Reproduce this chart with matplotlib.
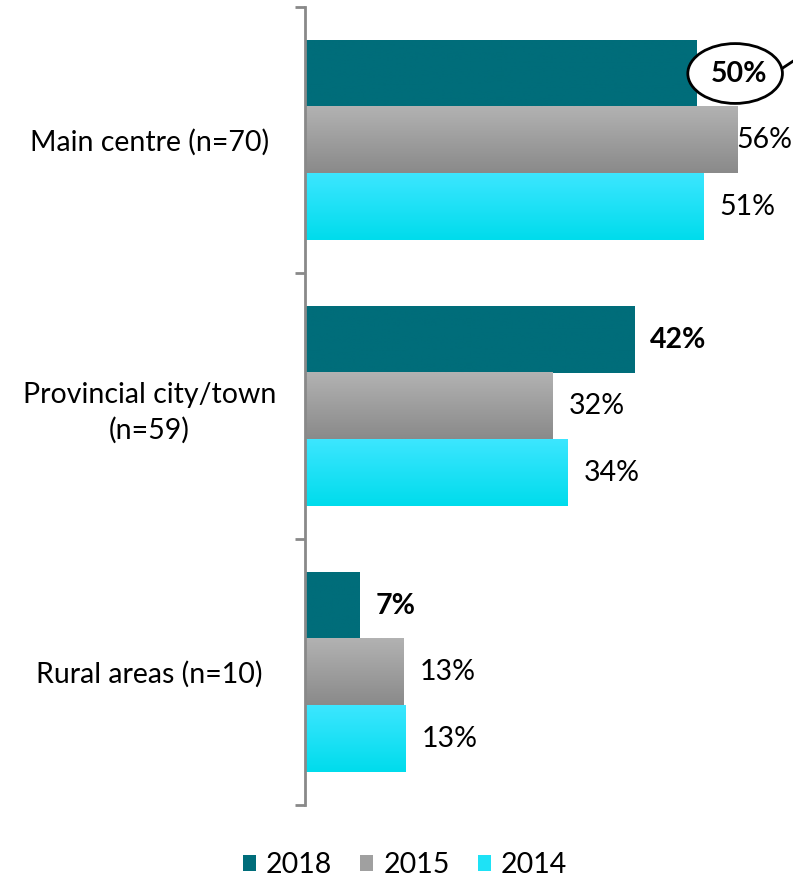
import matplotlib
matplotlib.use("Agg")
import matplotlib.pyplot as plt
import numpy as np
from matplotlib.colors import LinearSegmentedColormap
from matplotlib.patches import Ellipse, Patch
from matplotlib.lines import Line2D

plt.rcParams['font.family'] = ['Lato', 'DejaVu Sans']

categories = ['Main centre (n=70)', 'Provincial city/town\n(n=59)', 'Rural areas (n=10)']
years = ['2018', '2015', '2014']
vals_2018 = [50.0, 42.1, 7.0]
vals_2015 = [55.3, 31.7, 12.6]
vals_2014 = [51.0, 33.6, 12.9]
labels_2018 = ['50%', '42%', '7%']
labels_2015 = ['56%', '32%', '13%']
labels_2014 = ['51%', '34%', '13%']

# top colour, bottom colour for each series
grad = {
    '2018': ('#006d7a', '#006d7a'),
    '2015': ('#b2b2b2', '#8a8a8a'),
    '2014': ('#3ce6ff', '#00dcec'),
}
legend_col = {'2018': '#006d7a', '2015': '#a0a0a0', '2014': '#1ee2f6'}

fig = plt.figure(figsize=(7.93, 8.82), dpi=100)
ax = fig.add_axes([305/793, 77/882, 1 - 305/793, 798/882])

XMAX = 62.4
bh = 0.25
series = [(vals_2018, labels_2018, '2018', True),
          (vals_2015, labels_2015, '2015', False),
          (vals_2014, labels_2014, '2014', False)]

fs = 20.5
for k, (vals, labs, yr, bold) in enumerate(series):
    cmap = LinearSegmentedColormap.from_list(yr, list(grad[yr]))
    g = np.linspace(0, 1, 64).reshape(-1, 1)
    for i, v in enumerate(vals):
        yc = i - 0.25 + k * bh
        y0, y1 = yc - bh / 2, yc + bh / 2
        ax.imshow(g, extent=[0, v, y1, y0], origin='upper', aspect='auto',
                  cmap=cmap, vmin=0, vmax=1, zorder=2)
        if yr == '2018' and i == 0:
            continue
        if v + 9 > XMAX:
            # no room to the right: push label inward like Excel does
            ax.text(XMAX - 0.05, yc, labs[i], ha='right', va='center', fontsize=fs,
                    fontweight='bold' if bold else 'normal', clip_on=False)
        else:
            ax.annotate(labs[i], (v, yc), xytext=(11.5, 0), textcoords='offset points',
                        ha='left', va='center', fontsize=fs,
                        fontweight='bold' if bold else 'normal')

# highlighted callout on the 2018 main centre value
ax.text(55.5, -0.25, labels_2018[0], ha='center', va='center', fontsize=fs,
        fontweight='bold', zorder=5)
ax.add_patch(Ellipse((55.0, -0.25), 12.1, 0.225, facecolor='white',
                     edgecolor='black', linewidth=2, zorder=4, clip_on=False))
ax.add_line(Line2D([61.05, 62.6], [-0.27, -0.30], color='black', linewidth=2,
                   clip_on=False, zorder=4))

ax.set_xlim(0, XMAX)
ax.set_ylim(2.5, -0.5)
ax.set_yticks(range(len(categories)))
ax.set_yticklabels(categories, fontsize=fs, ha='center', linespacing=1.4)
ax.set_yticks([-0.5, 0.5, 1.5, 2.5], minor=True)
ax.tick_params(axis='y', which='major', length=0, pad=112)
ax.tick_params(axis='y', which='minor', length=7.5, width=2, color='#898989')
ax.set_xticks([])
for s in ['top', 'right', 'bottom']:
    ax.spines[s].set_visible(False)
ax.spines['left'].set_color('#898989')
ax.spines['left'].set_linewidth(2)

handles = [Patch(facecolor=legend_col[y], edgecolor='none') for y in years]
fig.legend(handles, years, loc='center', bbox_to_anchor=(405/793, 1 - 865/882),
           ncol=3, frameon=False, fontsize=fs, handlelength=0.45, handleheight=0.45,
           handletextpad=0.35, columnspacing=1.0)

fig.savefig('out.png', dpi=100)
